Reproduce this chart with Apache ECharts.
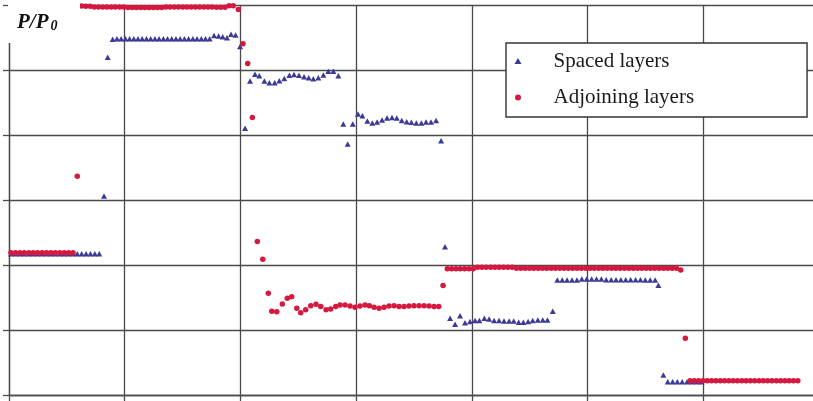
<!DOCTYPE html>
<html>
<head>
<meta charset="utf-8">
<script src="https://cdn.jsdelivr.net/npm/echarts@6/dist/echarts.min.js"></script>
<style>
  html, body { margin: 0; padding: 0; background: #ffffff; overflow: hidden; width: 813px; height: 401px; }
  #chart { width: 830px; height: 401px; }
</style>
</head>
<body>
<div id="chart"></div>
<script>
// ---- Data (x: time, 10 units per grid cell; y: P/P0) ----
const xTicks = [0, 10, 20, 30, 40, 50, 60, 70];
const yTicks = [0, 0.2, 0.4, 0.6, 0.8, 1.0, 1.2];
const seriesNames = ['Spaced layers', 'Adjoining layers'];

const spacedX = [
  0.17, 0.55, 0.94, 1.32, 1.70, 2.08, 2.46, 2.84, 3.23, 3.61, 3.99, 4.37, 4.75, 5.13, 5.51, 5.90, 6.28, 6.66, 7.04, 7.42, 7.80,
  8.21, 8.53,
  8.96, 9.33, 9.69, 10.06, 10.42, 10.79, 11.15, 11.51, 11.88, 12.24, 12.61, 12.97, 13.34, 13.70, 14.06, 14.43, 14.79, 15.16, 15.52, 15.89, 16.25, 16.62, 16.98, 17.34,
  17.72, 18.11, 18.47, 18.84, 19.19, 19.58,
  19.97, 20.40,
  20.83, 21.26, 21.63, 22.07, 22.50, 22.96, 23.36, 23.79, 24.23, 24.63, 25.06, 25.50, 25.90, 26.30, 26.73, 27.17, 27.60, 28.03, 28.46,
  28.89, 29.27, 29.71,
  30.16, 30.54, 30.97, 31.40, 31.81, 32.24, 32.67, 33.10, 33.51, 33.94, 34.37, 34.77, 35.20, 35.64, 36.04, 36.47, 36.91,
  37.34, 37.68,
  38.12, 38.55, 38.98, 39.41, 39.84, 40.28, 40.65, 41.08, 41.49, 41.92, 42.35, 42.78, 43.22, 43.62, 44.05, 44.45, 44.86, 45.26, 45.70, 46.13, 46.53,
  46.99,
  47.39, 47.81, 48.23, 48.66, 49.08, 49.50, 49.92, 50.35, 50.77, 51.19, 51.61, 52.04, 52.46, 52.88, 53.30, 53.72, 54.15, 54.57, 54.99, 55.41, 55.84,
  56.12, 56.55,
  56.93, 57.35, 57.76, 58.18, 58.60, 59.01, 59.44, 59.85
];
const spacedY = [
  0.435, 0.435, 0.435, 0.435, 0.435, 0.435, 0.435, 0.435, 0.435, 0.435, 0.435, 0.435, 0.435, 0.435, 0.435, 0.435, 0.435, 0.435, 0.435, 0.435, 0.435,
  0.612, 1.039,
  1.095, 1.096, 1.096, 1.096, 1.096, 1.096, 1.096, 1.096, 1.096, 1.096, 1.096, 1.096, 1.096, 1.096, 1.096, 1.096, 1.096, 1.096, 1.096, 1.096, 1.096, 1.096, 1.096, 1.096,
  1.106, 1.105, 1.102, 1.099, 1.110, 1.108,
  1.072, 0.821,
  0.966, 0.987, 0.982, 0.966, 0.961, 0.961, 0.967, 0.974, 0.984, 0.986, 0.984, 0.979, 0.976, 0.973, 0.976, 0.985, 0.996, 0.996, 0.982,
  0.834, 0.772, 0.834,
  0.865, 0.859, 0.843, 0.837, 0.840, 0.846, 0.852, 0.854, 0.852, 0.845, 0.841, 0.839, 0.837, 0.837, 0.840, 0.840, 0.845,
  0.782, 0.456,
  0.236, 0.218, 0.244, 0.222, 0.226, 0.229, 0.229, 0.236, 0.234, 0.229, 0.229, 0.228, 0.228, 0.228, 0.224, 0.224, 0.226, 0.229, 0.231, 0.231, 0.231,
  0.258,
  0.354, 0.354, 0.354, 0.354, 0.354, 0.357, 0.357, 0.357, 0.357, 0.357, 0.355, 0.355, 0.355, 0.355, 0.355, 0.355, 0.355, 0.355, 0.354, 0.354, 0.354,
  0.338, 0.0615,
  0.041, 0.041, 0.041, 0.041, 0.041, 0.041, 0.041, 0.041
];

const adjoiningX = [
  0.17, 0.56, 0.94, 1.32, 1.71, 2.09, 2.47, 2.86, 3.24, 3.62, 4.00, 4.39, 4.77, 5.15, 5.53,
  5.90,
  6.28, 6.64, 7.01, 7.37, 7.74, 8.10, 8.46, 8.83, 9.19, 9.56, 9.92, 10.28, 10.65, 11.01, 11.38, 11.74, 12.10, 12.47, 12.83, 13.20, 13.56, 13.92, 14.29, 14.65, 15.02, 15.38, 15.74, 16.11, 16.47, 16.84, 17.20, 17.56, 17.93, 18.29, 18.66, 19.02, 19.38,
  19.82, 20.22, 20.63, 21.03, 21.46, 21.93, 22.41,
  22.71, 23.14, 23.62, 24.05, 24.43, 24.87, 25.21, 25.64, 26.08, 26.53, 26.94, 27.40, 27.80, 28.24, 28.61, 29.04, 29.47, 29.90, 30.34, 30.77, 31.14, 31.55, 31.98, 32.41, 32.84, 33.28, 33.71, 34.14, 34.57, 35.00, 35.44, 35.87, 36.30, 36.73, 37.14,
  37.51,
  37.88, 38.25, 38.63, 39.00, 39.37, 39.75, 40.12, 40.50, 40.87, 41.24, 41.62, 41.99, 42.36, 42.74, 43.11, 43.48, 43.86, 44.23, 44.60, 44.98, 45.35, 45.73, 46.10, 46.47, 46.85, 47.22, 47.59, 47.97, 48.34, 48.71, 49.09, 49.46, 49.84, 50.21, 50.58, 50.96, 51.33, 51.70, 52.08, 52.45, 52.82, 53.20, 53.57, 53.95, 54.32, 54.69, 55.07, 55.44, 55.81, 56.19, 56.56, 56.93, 57.31, 57.68, 58.05,
  58.45,
  58.86, 59.23, 59.60, 59.98, 60.35, 60.72, 61.09, 61.47, 61.84, 62.21, 62.58, 62.95, 63.33, 63.70, 64.07, 64.44, 64.82, 65.19, 65.56, 65.93, 66.31, 66.68, 67.05, 67.42, 67.79, 68.17
];
const adjoiningY = [
  0.438, 0.438, 0.438, 0.438, 0.438, 0.438, 0.438, 0.438, 0.438, 0.438, 0.438, 0.438, 0.438, 0.438, 0.438,
  0.673,
  1.197, 1.196, 1.196, 1.194, 1.194, 1.194, 1.194, 1.194, 1.194, 1.194, 1.194, 1.192, 1.192, 1.192, 1.192, 1.192, 1.192, 1.192, 1.192, 1.192, 1.194, 1.194, 1.194, 1.194, 1.194, 1.194, 1.194, 1.194, 1.194, 1.194, 1.194, 1.194, 1.193, 1.193, 1.193, 1.198, 1.198,
  1.186, 1.081, 1.020, 0.854, 0.472, 0.418, 0.313,
  0.258, 0.256, 0.280, 0.298, 0.302, 0.267, 0.253, 0.262, 0.275, 0.279, 0.272, 0.262, 0.265, 0.272, 0.277, 0.277, 0.274, 0.270, 0.274, 0.277, 0.275, 0.270, 0.267, 0.270, 0.274, 0.275, 0.272, 0.272, 0.274, 0.275, 0.275, 0.275, 0.274, 0.272, 0.272,
  0.337,
  0.3886, 0.3886, 0.3886, 0.3886, 0.3886, 0.3886, 0.3886, 0.3929, 0.3929, 0.3929, 0.3929, 0.3929, 0.3929, 0.3929, 0.3929, 0.3929, 0.3898, 0.3898, 0.3898, 0.3898, 0.3898, 0.3898, 0.3898, 0.3898, 0.3898, 0.3898, 0.3898, 0.3898, 0.3898, 0.3898, 0.3898, 0.3898, 0.3898, 0.3898, 0.3898, 0.3898, 0.3898, 0.3898, 0.3898, 0.3898, 0.3898, 0.3898, 0.3898, 0.3898, 0.3898, 0.3898, 0.3898, 0.3898, 0.3898, 0.3898, 0.3898, 0.3898, 0.3898, 0.3898, 0.3846,
  0.1745,
  0.0437, 0.0437, 0.0437, 0.0437, 0.0437, 0.0437, 0.0437, 0.0437, 0.0437, 0.0437, 0.0437, 0.0437, 0.0437, 0.0437, 0.0437, 0.0437, 0.0437, 0.0437, 0.0437, 0.0437, 0.0437, 0.0437, 0.0437, 0.0437, 0.0437, 0.0437
];

// ---- Chart ----
const gridColor = '#4a4a4a';
const lineStyle = { color: gridColor, width: 1.3 };
const serif = '"Liberation Serif", "Times New Roman", Times, serif';
const blue = '#3b3a98';
const red = '#d6173e';

function pairs(xs, ys) { return xs.map((x, i) => [x, ys[i]]); }

const chart = echarts.init(document.getElementById('chart'), null, { renderer: 'canvas' });
chart.setOption({
  animation: false,
  backgroundColor: '#ffffff',
  grid: { left: 9, right: 11, top: 5, bottom: 6, containLabel: false },
  xAxis: {
    type: 'value',
    min: xTicks[0], max: xTicks[xTicks.length - 1], interval: xTicks[1] - xTicks[0],
    axisLine: { show: true, onZero: false, lineStyle: lineStyle },
    axisTick: { show: true, inside: false, length: 8, lineStyle: lineStyle },
    axisLabel: { show: false },
    splitLine: { show: true, lineStyle: lineStyle }
  },
  yAxis: {
    type: 'value',
    min: yTicks[0], max: yTicks[yTicks.length - 1], interval: 0.2,
    axisLine: { show: true, lineStyle: lineStyle },
    axisTick: { show: true, inside: false, length: 6, lineStyle: lineStyle },
    axisLabel: { show: false },
    splitLine: { show: true, lineStyle: lineStyle }
  },
  legend: {
    data: seriesNames,
    orient: 'vertical',
    left: 506, top: 43,
    padding: [7.5, 113, 9, 8.5],
    itemGap: 15.5,
    itemWidth: 7, itemHeight: 6,
    backgroundColor: '#ffffff',
    borderColor: '#333333',
    borderWidth: 1.4,
    borderRadius: 0,
    selectedMode: false,
    textStyle: { fontFamily: serif, fontSize: 21, lineHeight: 21, color: '#1a1a1a', padding: [0, 0, 0, 27] }
  },
  graphic: [
    { type: 'rect', z: 50, silent: true, shape: { x: 8, y: 0, width: 72, height: 43 }, style: { fill: '#ffffff' } },
    { type: 'text', z: 51, silent: true, x: 17, y: 12,
      style: { text: 'P/P', fontFamily: serif, fontSize: 21, fontWeight: 'bold', fontStyle: 'italic', fill: '#111111' } },
    { type: 'text', z: 51, silent: true, x: 50.5, y: 19.5,
      style: { text: '0', fontFamily: serif, fontSize: 14, fontWeight: 'bold', fontStyle: 'italic', fill: '#111111' } }
  ],
  series: [
    {
      name: seriesNames[0], type: 'scatter', symbol: 'triangle', symbolSize: [6, 5.5],
      itemStyle: { color: blue, opacity: 1 },
      data: pairs(spacedX, spacedY), z: 3
    },
    {
      name: seriesNames[1], type: 'scatter', symbol: 'circle', symbolSize: 5.5,
      itemStyle: { color: red, opacity: 1 },
      data: pairs(adjoiningX, adjoiningY), z: 4
    }
  ]
});
</script>
</body>
</html>
